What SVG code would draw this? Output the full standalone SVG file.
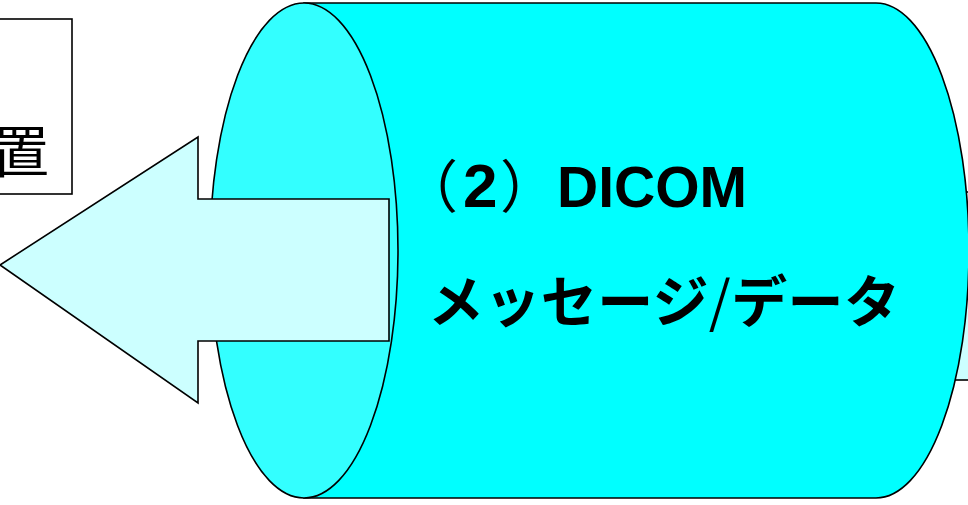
<svg xmlns="http://www.w3.org/2000/svg" width="968" height="505" viewBox="0 0 968 505">
<style>
.ln{stroke:#000;stroke-width:1.6;stroke-linejoin:miter}
.lt{fill:#ccffff}
.jp{font-family:"Liberation Sans","Noto Sans CJK JP",sans-serif;fill:#000}
.cjk{font-family:"Noto Sans CJK JP",sans-serif}
</style>
<rect width="968" height="505" fill="#fff"/>
<g id="right-arrow">
<rect class="ln lt" x="880" y="192" width="100" height="188"/>
</g>
<g id="dicom-cylinder">
<path class="ln" fill="#00ffff" d="M304,3 L876,3 A93,247.5 0 0 1 876,498 L304,498 Z"/>
<ellipse class="ln" fill="#33ffff" cx="304" cy="250.5" rx="94" ry="247.5"/>
<text class="jp" font-size="57" font-weight="bold" y="207"><tspan class="cjk" font-weight="normal" x="401">（</tspan><tspan x="463" font-size="62">2</tspan><tspan class="cjk" font-weight="normal" x="500">）</tspan><tspan x="557">DICOM</tspan></text>
<text class="cjk" font-size="56" font-weight="bold" x="428" y="322" textLength="472" lengthAdjust="spacing">メッセージ<tspan font-weight="normal">/</tspan>データ</text>
</g>
<g id="device-box">
<rect class="ln" fill="#fff" x="-5" y="19" width="77" height="175"/>
<text class="cjk" font-size="56" x="-7" y="172">置</text>
</g>
<g id="connectors">
<path class="ln lt" d="M0,265 L198,137 L198,199 L389,199 L389,341 L198,341 L198,403 Z"/>
</g>
</svg>
